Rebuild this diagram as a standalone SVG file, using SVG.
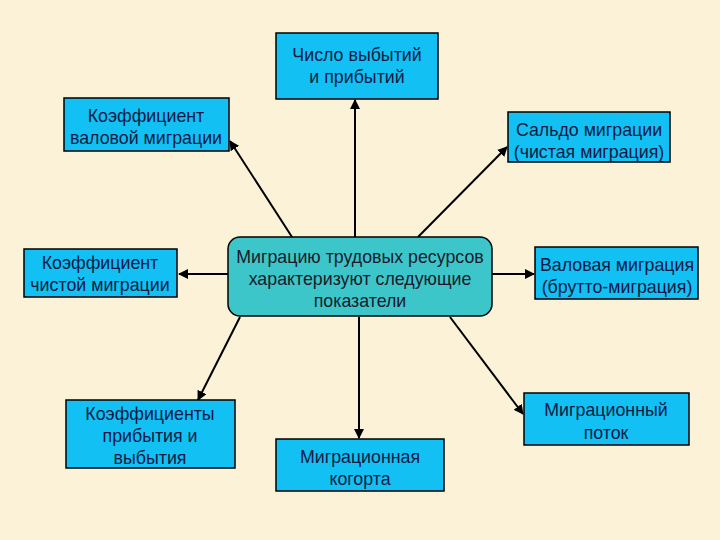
<svg xmlns="http://www.w3.org/2000/svg" width="720" height="540" viewBox="0 0 720 540">
<style>
.box{fill:#12C0F4;stroke:#000;stroke-width:1.5}
.ctr{fill:#3CC6CA;stroke:#000;stroke-width:1.5}
text{font-family:"Liberation Sans",Arial,sans-serif;font-size:17.8px;text-anchor:middle;fill:#0C1A44}
.ct{fill:#1A1A2A}
.conn line{stroke:#000;stroke-width:2;marker-end:url(#ah)}
</style>
<defs>
<marker id="ah" viewBox="0 0 10 10" refX="9" refY="5" markerWidth="5" markerHeight="5" orient="auto" markerUnits="strokeWidth">
<path d="M0,0 L10,5 L0,10 z" fill="#000"/>
</marker>
</defs>
<rect width="720" height="540" fill="#FCF2D8"/>
<g class="conn">
<line x1="355" y1="237" x2="355" y2="100"/>
<line x1="292" y1="237" x2="230" y2="141"/>
<line x1="418" y1="237" x2="507" y2="147"/>
<line x1="228" y1="274" x2="179" y2="274"/>
<line x1="492" y1="274" x2="534" y2="274"/>
<line x1="240" y1="317" x2="198" y2="400"/>
<line x1="359" y1="317" x2="359" y2="438"/>
<line x1="450" y1="317" x2="523" y2="414"/>
</g>
<g id="n1"><rect class="box" x="276" y="33" width="162" height="66"/><text x="357" y="61">Число выбытий</text><text x="357" y="83">и прибытий</text></g>
<g id="n2"><rect class="box" x="64" y="98" width="165" height="53"/><text x="146" y="122">Коэффициент</text><text x="146" y="144">валовой миграции</text></g>
<g id="n3"><rect class="box" x="508" y="112" width="162" height="50"/><text x="589" y="136">Сальдо миграции</text><text x="589" y="158">(чистая миграция)</text></g>
<g id="center"><rect class="ctr" x="228" y="237" width="264" height="79" rx="12"/><text class="ct" x="360" y="263">Миграцию трудовых ресурсов</text><text class="ct" x="360" y="285">характеризуют следующие</text><text class="ct" x="360" y="307">показатели</text></g>
<g id="n4"><rect class="box" x="24" y="249" width="153" height="48"/><text x="100" y="269">Коэффициент</text><text x="100" y="291">чистой миграции</text></g>
<g id="n5"><rect class="box" x="535" y="247" width="163" height="52"/><text x="617" y="271">Валовая миграция</text><text x="617" y="293">(брутто-миграция)</text></g>
<g id="n6"><rect class="box" x="66" y="400" width="169" height="68"/><text x="150" y="420">Коэффициенты</text><text x="150" y="442">прибытия и</text><text x="150" y="464">выбытия</text></g>
<g id="n7"><rect class="box" x="276" y="439" width="168" height="52"/><text x="360" y="463">Миграционная</text><text x="360" y="485">когорта</text></g>
<g id="n8"><rect class="box" x="524" y="393" width="165" height="52"/><text x="606" y="416">Миграционный</text><text x="606" y="439">поток</text></g>
</svg>
